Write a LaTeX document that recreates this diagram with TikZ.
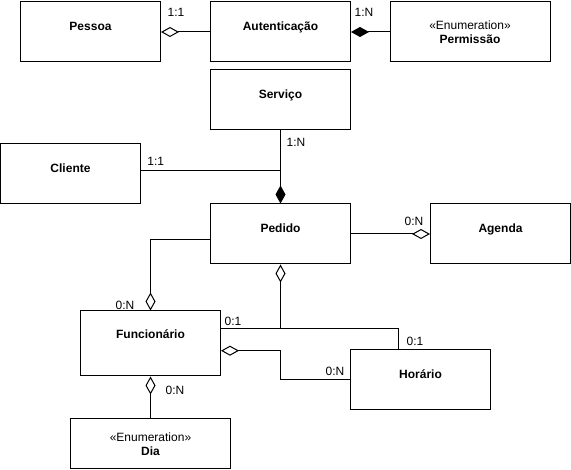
\documentclass[tikz,border=0pt]{standalone}
\usepackage{fontspec}
\setmainfont{Liberation Sans}
\usetikzlibrary{arrows.meta}

\begin{document}
\begin{tikzpicture}[x=1pt, y=-1pt, line width=1pt,
  every node/.style={font=\fontsize{12}{14}\selectfont},
  classe/.style={draw, minimum width=140pt, minimum height=60pt, inner sep=0pt,
    text height=9pt, text depth=12pt, font=\fontsize{12}{14}\selectfont\bfseries},
  enum/.style={draw, minimum width=160pt, minimum height=60pt, inner sep=0pt, align=center},
  mult/.style={inner sep=0pt},
  agreg/.style={-{Diamond[open, length=18pt, width=10pt]}},
  compos/.style={-{Diamond[length=18pt, width=10pt]}}]
  \useasboundingbox (0,0) rectangle (571,470);
  % classes
  \node[classe] (pessoa) at (90.5,32) {Pessoa};
  \node[classe] (auten) at (280.5,32) {Autenticação};
  \node[enum] (permissao) at (470,32) {«Enumeration»\\\textbf{Permissão}};
  \node[classe] (servico) at (280.5,100) {Serviço};
  \node[classe] (cliente) at (70.5,174) {Cliente};
  \node[classe] (pedido) at (280.5,234) {Pedido};
  \node[classe] (agenda) at (500.5,234) {Agenda};
  \node[classe, minimum height=65pt, text depth=18pt] (func) at (150.5,343.5) {Funcionário};
  \node[classe] (horario) at (420.5,380) {Horário};
  \node[enum, minimum height=50pt] (dia) at (150.5,444) {«Enumeration»\\\textbf{Dia}};
  \coordinate (jc) at (280.5,170.7);
  \coordinate (jf) at (280.5,329);
  \coordinate (jh) at (398,329);
  % relations
  \draw[agreg] (auten.west) -- (pessoa.east);
  \draw[compos] (permissao.west) -- (auten.east);
  \draw[compos] (servico.south) -- (pedido.north);
  \draw (cliente.east |- jc) -- (jc);
  \draw[agreg] (pedido.east) -- (agenda.west);
  \draw[agreg] ([yshift=-6pt]pedido.west) -| (func.north);
  \draw[agreg] (jf) -- (pedido.south);
  \draw ([yshift=14.5pt]func.east) -- (jh) -- (jh |- horario.north);
  \draw[agreg] (horario.west) -- ++(-70,0) |- ([yshift=-7.2pt]func.east);
  \draw[agreg] (dia.north) -- (func.south);
  % multiplicidades
  \node[mult] (m1) at (176,12) {1:1};
  \node[mult] (m2) at (364,12) {1:N};
  \node[mult] (m3) at (296,142) {1:N};
  \node[mult] (m4) at (155.7,161) {1:1};
  \node[mult] (m5) at (414,221) {0:N};
  \node[mult] (m6) at (125,305) {0:N};
  \node[mult] (m7) at (233,321) {0:1};
  \node[mult] (m8) at (415,341) {0:1};
  \node[mult] (m9) at (335,371) {0:N};
  \node[mult] (m10) at (175,390) {0:N};
\end{tikzpicture}
\end{document}
